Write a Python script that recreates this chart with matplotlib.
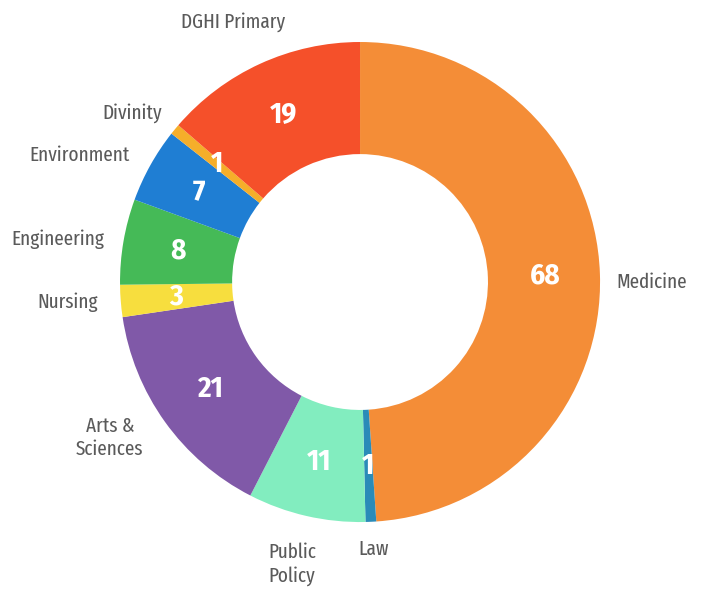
import matplotlib.pyplot as plt
import numpy as np

categories = ['Medicine', 'Law', 'Public Policy', 'Arts & Sciences', 'Nursing',
              'Engineering', 'Environment', 'Divinity', 'DGHI Primary']
values = [68, 1, 11, 21, 3, 8, 7, 1, 19]
colors = ['#F48D37', '#2A8BB8', '#82EDBF', '#8059A8', '#F7DE3E',
          '#45BA57', '#1F7ED3', '#F5AE2A', '#F5502A']
# outer label text and placement (axes units, radius = 1)
outer_labels = ['Medicine', 'Law', 'Public\nPolicy', 'Arts &\nSciences', 'Nursing',
                'Engineering', 'Environment', 'Divinity', 'DGHI Primary']
label_pos = [(1.07, 0.0), (-0.008, -1.1125), (-0.283, -1.175), (-1.042, -0.65), (-1.092, -0.083),
             (-1.067, 0.179), (-0.958, 0.529), (-0.825, 0.704), (-0.53, 1.083)]
label_ha = ['left', 'left', 'center', 'center', 'right', 'right', 'right', 'right', 'center']

plt.rcParams['font.family'] = ['Fira Sans Extra Condensed', 'DejaVu Sans']

fig = plt.figure(figsize=(7.04, 5.89), dpi=100)
ax = fig.add_axes([0, 0, 1, 1])

wedges, _ = ax.pie(values, colors=colors, startangle=90, counterclock=False,
                   radius=1, wedgeprops=dict(width=0.467, linewidth=0))

for w, v in zip(wedges, values):
    ang = np.deg2rad((w.theta1 + w.theta2) / 2)
    r = 0.77
    ax.text(r * np.cos(ang), r * np.sin(ang), str(v), ha='center', va='center',
            color='white', fontsize=21, fontweight='bold',
            family=['Fira Sans Condensed', 'DejaVu Sans'])

for txt, (x, y), ha in zip(outer_labels, label_pos, label_ha):
    ax.text(x, y, txt, ha=ha, va='center', color='#5a5a5a', fontsize=15,
            linespacing=1.25)

ax.set_xlim(-1.5, 1.433)
ax.set_ylim(-1.279, 1.175)
ax.set_aspect('equal')
ax.axis('off')

fig.savefig('out.png', dpi=100)
